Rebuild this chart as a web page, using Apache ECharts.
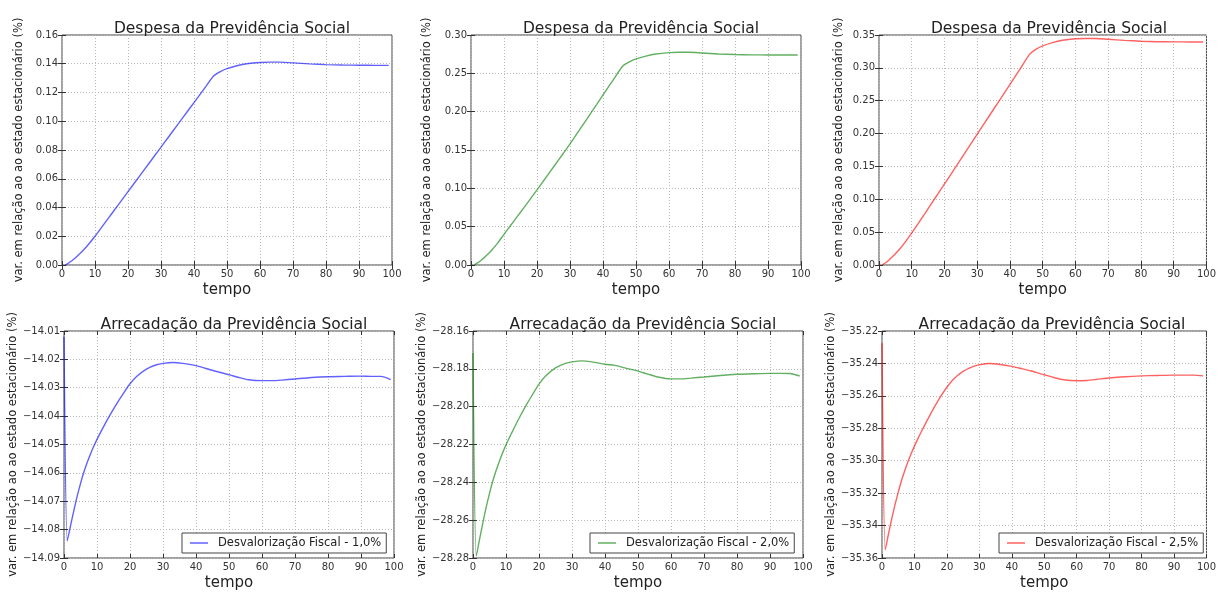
<!DOCTYPE html>
<html>
<head>
<meta charset="utf-8">
<title>Previdência Social</title>
<script src="https://cdn.jsdelivr.net/npm/echarts@6/dist/echarts.min.js"></script>
<style>
  html, body { margin: 0; padding: 0; background: #fff; }
  #chart { width: 1219px; height: 592px; }
</style>
</head>
<body>
<div id="chart"></div>
<script>
// ---- data ----
const tempoDespesa = [1, 2, 3, 4, 5, 6, 8, 10, 12, 14, 16, 18, 20, 22, 25, 28, 30, 32, 35, 38, 40, 43, 46, 48, 50, 53, 56, 60, 63, 66, 70, 75, 80, 85, 90, 95, 99];

const despesa10 = [0, 0.0014, 0.0030, 0.0049, 0.0070, 0.0092, 0.0143, 0.0200, 0.0262, 0.0324, 0.0386, 0.0448, 0.0510, 0.0572, 0.0665, 0.0758, 0.0820, 0.0882, 0.0975, 0.1068, 0.1130, 0.1223, 0.1316, 0.1346, 0.1366, 0.1386, 0.1400, 0.1409, 0.1411, 0.1411, 0.1406, 0.1399, 0.1394, 0.1391, 0.1390, 0.1389, 0.1389];

const despesa20 = [0, 0.0028, 0.0059, 0.0096, 0.0137, 0.0180, 0.0282, 0.0400, 0.0515, 0.0630, 0.0746, 0.0862, 0.0980, 0.1099, 0.1278, 0.1458, 0.1580, 0.1706, 0.1896, 0.2090, 0.2220, 0.2408, 0.2595, 0.2650, 0.2688, 0.2725, 0.2752, 0.2770, 0.2775, 0.2775, 0.2766, 0.2753, 0.2745, 0.2741, 0.2740, 0.2739, 0.2739];

const despesa25 = [0, 0.0034, 0.0073, 0.0120, 0.0171, 0.0225, 0.0349, 0.0489, 0.0635, 0.0783, 0.0933, 0.1083, 0.1233, 0.1383, 0.1610, 0.1838, 0.1990, 0.2142, 0.2370, 0.2598, 0.2750, 0.2978, 0.3206, 0.3285, 0.3335, 0.3385, 0.3420, 0.3442, 0.3447, 0.3447, 0.3435, 0.3418, 0.3406, 0.3398, 0.3396, 0.3394, 0.3394];

const tempoArrecadacao = [0, 1, 2, 3, 4, 5, 6, 7, 8, 9, 10, 11, 12, 14, 16, 18, 20, 22, 25, 28, 30, 33, 36, 40, 43, 46, 50, 53, 56, 60, 63, 66, 70, 75, 80, 85, 90, 93, 96, 99];

const arrecadacao10 = [-14.012, -14.0840, -14.0785, -14.0732, -14.0682, -14.0638, -14.0598, -14.0564, -14.0534, -14.0507, -14.0482, -14.0459, -14.0437, -14.0395, -14.0356, -14.0320, -14.0286, -14.0260, -14.0234, -14.0219, -14.0214, -14.0211, -14.0214, -14.0222, -14.0232, -14.0242, -14.0254, -14.0264, -14.0272, -14.0275, -14.0275, -14.0273, -14.0269, -14.0264, -14.0261, -14.0260, -14.0259, -14.0260, -14.0260, -14.0271];

const arrecadacao20 = [-28.1716, -28.2790, -28.2700, -28.2613, -28.2531, -28.2458, -28.2393, -28.2337, -28.2288, -28.2243, -28.2202, -28.2165, -28.2129, -28.2060, -28.1996, -28.1937, -28.1881, -28.1838, -28.1795, -28.1771, -28.1763, -28.1758, -28.1763, -28.1776, -28.1782, -28.1795, -28.1812, -28.1828, -28.1843, -28.1853, -28.1853, -28.1849, -28.1843, -28.1835, -28.1829, -28.1826, -28.1824, -28.1824, -28.1825, -28.1838];

const arrecadacao25 = [-35.2274, -35.3550, -35.3452, -35.3358, -35.3272, -35.3195, -35.3124, -35.3062, -35.3006, -35.2956, -35.2910, -35.2867, -35.2826, -35.2748, -35.2674, -35.2606, -35.2547, -35.2497, -35.2449, -35.2420, -35.2409, -35.2400, -35.2405, -35.2418, -35.2432, -35.2447, -35.2470, -35.2487, -35.2501, -35.2507, -35.2505, -35.2499, -35.2490, -35.2482, -35.2477, -35.2474, -35.2472, -35.2472, -35.2472, -35.2477];

const titulos = ['Despesa da Previdência Social', 'Arrecadação da Previdência Social'];
const nomeEixoY = 'var. em relação ao ao estado estacionário (%)';
const nomeEixoX = 'tempo';
const cenarios = ['Desvalorização Fiscal - 1,0%', 'Desvalorização Fiscal - 2,0%', 'Desvalorização Fiscal - 2,5%'];

// y-axis scale per panel: [min, max, step]
const escalasDespesa = [[0, 0.16, 0.02], [0, 0.30, 0.05], [0, 0.35, 0.05]];
const escalasArrecadacao = [[-14.09, -14.01, 0.01], [-28.28, -28.16, 0.02], [-35.36, -35.22, 0.02]];
const escalaTempo = [0, 100, 10];

// ---- layout ----
const FONT = 'DejaVu Sans';
const cores = ['rgba(0,0,255,0.62)', 'rgba(0,128,0,0.62)', 'rgba(255,0,0,0.62)'];
const W = 330;
const linhaSup = { top: 35, height: 230, lefts: [62, 471, 879], gaps: [37, 38, 34] };
const linhaInf = { top: 331, height: 229, lefts: [64, 473, 882], gaps: [38, 39, 38] };
const legendLefts = [182, 590, 999];

const fmtY = v => (v < 0 ? '\u2212' : '') + Math.abs(v).toFixed(2);

const panels = [];
[despesa10, despesa20, despesa25].forEach((ys, i) => {
  panels.push({ row: linhaSup, col: i, title: titulos[0], t: tempoDespesa, y: ys,
    esc: escalasDespesa[i], name: 'Despesa ' + cenarios[i], legend: false });
});
[arrecadacao10, arrecadacao20, arrecadacao25].forEach((ys, i) => {
  panels.push({ row: linhaInf, col: i, title: titulos[1], t: tempoArrecadacao, y: ys,
    esc: escalasArrecadacao[i], name: cenarios[i], legend: true });
});

const grid = [], xAxis = [], yAxis = [], series = [], title = [], legend = [];
const tick = { show: true, inside: true, length: 4, lineStyle: { color: '#333', width: 1 } };
const split = { show: true, lineStyle: { color: '#b8b8b8', type: [1, 2], width: 1 } };

panels.forEach((p, k) => {
  const left = p.row.lefts[p.col];
  grid.push({ left: left, top: p.row.top, width: W, height: p.row.height,
    show: true, borderColor: '#444', borderWidth: 1, backgroundColor: 'transparent' });

  title.push({ text: p.title, left: left + W / 2, top: p.row.top - 19, textAlign: 'center',
    textStyle: { fontFamily: FONT, fontSize: 15.5, fontWeight: 'normal', color: '#222' } });

  const xi = xAxis.length;
  xAxis.push({ type: 'value', gridIndex: k, min: escalaTempo[0], max: escalaTempo[1], interval: escalaTempo[2],
    name: nomeEixoX, nameLocation: 'middle', nameGap: 18,
    nameTextStyle: { fontFamily: FONT, fontSize: 15, color: '#222' },
    axisLine: { show: false }, axisTick: tick, splitLine: split,
    axisLabel: { fontFamily: FONT, fontSize: 10, color: '#333', margin: 4 } });
  xAxis.push({ type: 'value', gridIndex: k, position: 'top', min: escalaTempo[0], max: escalaTempo[1], interval: escalaTempo[2],
    axisLine: { show: false }, axisTick: tick, splitLine: { show: false }, axisLabel: { show: false } });

  const yi = yAxis.length;
  yAxis.push({ type: 'value', gridIndex: k, min: p.esc[0], max: p.esc[1], interval: p.esc[2],
    name: nomeEixoY, nameLocation: 'middle', nameGap: p.row.gaps[p.col],
    nameTextStyle: { fontFamily: FONT, fontSize: 11.5, color: '#222' },
    axisLine: { show: false }, axisTick: tick, splitLine: split,
    axisLabel: { fontFamily: FONT, fontSize: 10, color: '#333', margin: 4, formatter: fmtY } });
  yAxis.push({ type: 'value', gridIndex: k, position: 'right', min: p.esc[0], max: p.esc[1], interval: p.esc[2],
    axisLine: { show: false }, axisTick: tick, splitLine: { show: false }, axisLabel: { show: false } });

  series.push({ type: 'line', name: p.name, xAxisIndex: xi, yAxisIndex: yi,
    data: p.t.map((t, j) => [t, p.y[j]]), showSymbol: false, symbol: 'none',
    smooth: 0.25,
    lineStyle: { color: cores[p.col], width: 1.4 }, itemStyle: { color: cores[p.col] },
    animation: false });

  if (p.legend) {
    legend.push({ data: [p.name], left: legendLefts[p.col], top: 533,
      orient: 'horizontal', icon: 'rect', itemWidth: 18, itemHeight: 1.5,
      backgroundColor: '#fff', borderColor: '#444', borderWidth: 1, borderRadius: 0,
      padding: [4, 5, 4, 8], selectedMode: false,
      textStyle: { fontFamily: FONT, fontSize: 11.5, color: '#222', padding: [0, 0, 0, 5] } });
  }
});

const chart = echarts.init(document.getElementById('chart'), null, { renderer: 'canvas' });
chart.setOption({ animation: false, backgroundColor: '#fff', title, legend, grid, xAxis, yAxis, series });
</script>
</body>
</html>
